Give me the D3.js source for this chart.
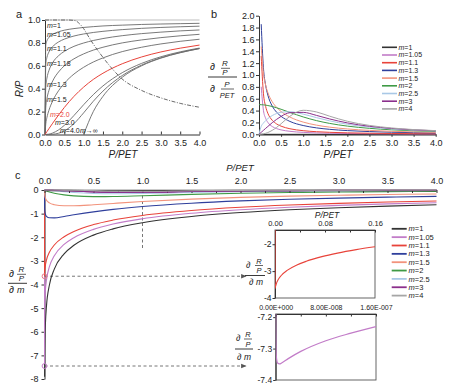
<!DOCTYPE html>
<html>
<head>
<meta charset="utf-8">
<script src="https://cdn.jsdelivr.net/npm/d3@7"></script>
<style>
  body { margin: 0; background: #fff; }
  svg { font-family: "Liberation Sans", Arial, Helvetica, sans-serif; }
  .ax path, .ax line { stroke: #333; }
  .ax text { fill: #222; }
</style>
</head>
<body>
<svg width="464" height="388"></svg>
<script>
// ---- panel a : R/P against P/PET ----
const xA = [0, 0.02, 0.05, 0.1, 0.2, 0.35, 0.5, 0.75, 1, 1.25, 1.5, 2, 2.5, 3, 3.5, 4];
const rpM1    = [1, 1, 1, 1, 1, 1, 1, 1, 1, 1, 1, 1, 1, 1, 1, 1];
const rpM105  = [0, 0.783, 0.819, 0.847, 0.875, 0.897, 0.911, 0.925, 0.935, 0.942, 0.948, 0.955, 0.961, 0.965, 0.968, 0.971];
const rpM11   = [0, 0.614, 0.673, 0.720, 0.768, 0.808, 0.833, 0.860, 0.878, 0.891, 0.901, 0.916, 0.927, 0.935, 0.941, 0.946];
const rpM118  = [0, 0.419, 0.493, 0.557, 0.628, 0.688, 0.726, 0.770, 0.799, 0.821, 0.838, 0.863, 0.881, 0.894, 0.905, 0.913];
const rpM13   = [0, 0.238, 0.313, 0.383, 0.468, 0.546, 0.600, 0.661, 0.704, 0.737, 0.762, 0.800, 0.826, 0.846, 0.862, 0.875];
const rpM15   = [0, 0.094, 0.149, 0.210, 0.294, 0.382, 0.447, 0.528, 0.587, 0.633, 0.669, 0.724, 0.762, 0.791, 0.814, 0.832];
const rpM2    = [0, 0.010, 0.025, 0.050, 0.099, 0.170, 0.236, 0.333, 0.414, 0.481, 0.535, 0.618, 0.677, 0.721, 0.754, 0.781];
const rpM3    = [0, 0, 0.001, 0.003, 0.013, 0.040, 0.080, 0.166, 0.260, 0.348, 0.424, 0.540, 0.621, 0.679, 0.722, 0.755];
const rpM4    = [0, 0, 0, 0, 0.002, 0.011, 0.031, 0.095, 0.189, 0.290, 0.379, 0.515, 0.606, 0.670, 0.716, 0.751];
const rpMinf  = [null, null, null, null, null, null, null, null, 0, 0.2, 0.333, 0.5, 0.6, 0.667, 0.714, 0.75];
// dash-dot curve
const xDD = [0, 0.6, 0.78, 0.9, 1.0, 1.1, 1.25, 1.42, 1.73, 1.98, 2.5, 3.0, 3.5, 4.0];
const yDD = [1, 1, 0.995, 0.965, 0.925, 0.87, 0.79, 0.71, 0.578, 0.49, 0.385, 0.32, 0.272, 0.238];
const ticksX = [0, 0.5, 1, 1.5, 2, 2.5, 3, 3.5, 4];
const ticksA = [0, 0.2, 0.4, 0.6, 0.8, 1.0];

// ---- panel b : derivative against P/PET ----
const xB = [0, 0.05, 0.1, 0.15, 0.2, 0.3, 0.4, 0.5, 0.7, 1.0, 1.3, 1.6, 2.0, 2.5, 3.0, 3.5, 4.0];
const dM1   = [0, 0, 0, 0, 0, 0, 0, 0, 0, 0, 0, 0, 0, 0, 0, 0, 0];
const dM105 = [null, 0.802, 0.406, 0.270, 0.201, 0.131, 0.0956, 0.0744, 0.0502, 0.0325, 0.0232, 0.0176, 0.0130, 0.0095, 0.0073, 0.0058, 0.0048];
const dM11  = [null, 1.321, 0.693, 0.470, 0.355, 0.236, 0.174, 0.137, 0.0935, 0.0611, 0.0439, 0.0334, 0.0247, 0.0181, 0.0139, 0.0111, 0.0091];
const dM13  = [null, 1.857, 1.122, 0.828, 0.662, 0.476, 0.371, 0.303, 0.217, 0.148, 0.1086, 0.0837, 0.0623, 0.0457, 0.0351, 0.0278, 0.0227];
const dM15  = [null, 1.480, 1.032, 0.829, 0.704, 0.549, 0.453, 0.384, 0.291, 0.206, 0.1547, 0.1205, 0.0902, 0.0661, 0.0506, 0.0400, 0.0325];
const dM2   = [0.5, 0.499, 0.496, 0.492, 0.485, 0.469, 0.447, 0.422, 0.369, 0.293, 0.231, 0.1836, 0.1382, 0.1006, 0.0760, 0.0592, 0.0473];
const dM25  = [0, 0.134, 0.189, 0.231, 0.265, 0.316, 0.351, 0.372, 0.380, 0.340, 0.281, 0.2264, 0.1698, 0.1218, 0.0905, 0.0695, 0.0548];
const dM3   = [0, 0.0333, 0.0666, 0.0997, 0.132, 0.196, 0.253, 0.302, 0.364, 0.370, 0.319, 0.2587, 0.1922, 0.1354, 0.0991, 0.0751, 0.0586];
const dM4   = [0, 0.0019, 0.0075, 0.0169, 0.030, 0.067, 0.117, 0.178, 0.304, 0.405, 0.377, 0.305, 0.2201, 0.1499, 0.1070, 0.0797, 0.0615];
const ticksB = [0, 0.2, 0.4, 0.6, 0.8, 1.0, 1.2, 1.4, 1.6, 1.8, 2.0];

// ---- panel c : d(R/P)/dm against P/PET ----
const xC = [0, 1e-8, 0.001, 0.002, 0.005, 0.01, 0.02, 0.05, 0.1, 0.2, 0.3, 0.5, 0.7, 1, 1.5, 2, 2.5, 3, 3.5, 4];
const sM1   = [null, null, -7.908, -7.216, -6.301, -5.610, -4.922, -4.020, -3.351, -2.703, -2.341, -1.910, -1.645, -1.386, -1.122, -0.955, -0.838, -0.750, -0.681, -0.626];
const sM105 = [0, -7.35, -5.300, -5.003, -4.568, -4.206, -3.814, -3.247, -2.786, -2.305, -2.020, -1.666, -1.442, -1.217, -0.982, -0.833, -0.728, -0.649, -0.587, -0.537];
const sM11  = [0, -3.65, -3.562, -3.479, -3.322, -3.163, -2.963, -2.634, -2.329, -1.978, -1.755, -1.464, -1.273, -1.076, -0.867, -0.732, -0.637, -0.565, -0.509, -0.464];
const sM13  = [0, -0.06, -0.743, -0.832, -0.952, -1.036, -1.113, -1.176, -1.178, -1.120, -1.051, -0.925, -0.821, -0.699, -0.558, -0.462, -0.394, -0.343, -0.303, -0.271];
const sM15  = [0, 0, -0.160, -0.205, -0.281, -0.351, -0.432, -0.545, -0.622, -0.668, -0.667, -0.625, -0.569, -0.489, -0.385, -0.312, -0.260, -0.221, -0.191, -0.168];
const sM2   = [0, 0, -0.004, -0.007, -0.015, -0.026, -0.044, -0.087, -0.140, -0.208, -0.248, -0.280, -0.276, -0.245, -0.186, -0.140, -0.108, -0.086, -0.070, -0.058];
const sM25  = [0, 0, 0, 0, -0.001, -0.002, -0.005, -0.015, -0.034, -0.071, -0.103, -0.145, -0.158, -0.146, -0.105, -0.072, -0.051, -0.037, -0.028, -0.022];
const sM3   = [0, 0, 0, 0, 0, 0, -0.001, -0.003, -0.009, -0.026, -0.045, -0.081, -0.100, -0.097, -0.065, -0.040, -0.026, -0.017, -0.012, -0.009];
const sM4   = [0, 0, 0, 0, 0, 0, 0, 0, -0.001, -0.004, -0.010, -0.028, -0.046, -0.052, -0.029, -0.014, -0.007, -0.004, -0.003, -0.002];
const ticksC = [0, -1, -2, -3, -4, -5, -6, -7, -8];
const ticksCTop = [0, 0.25, 0.5, 0.75, 1, 1.25, 1.5, 1.75, 2, 2.25, 2.5, 2.75, 3, 3.25, 3.5, 3.75, 4];

// inset 1 (m=1.1, small P/PET)
const xIn1 = [0, 1e-8, 0.001, 0.002, 0.005, 0.01, 0.02, 0.035, 0.05, 0.075, 0.1, 0.13, 0.16];
const yIn1 = [0, -3.65, -3.562, -3.479, -3.322, -3.163, -2.963, -2.772, -2.634, -2.461, -2.329, -2.201, -2.095];
const ticksIn1X = [0, 0.04, 0.08, 0.12, 0.16];
const ticksIn1Y = [-2, -3, -4];
// inset 2 (m=1.05, very small P/PET)
const xIn2 = [0, 1e-10, 1e-9, 3e-9, 6e-9, 1e-8, 2e-8, 4e-8, 8e-8, 1.2e-7, 1.6e-7];
const yIn2 = [0, -7.221, -7.325, -7.346, -7.349, -7.345, -7.332, -7.309, -7.275, -7.251, -7.230];
const ticksIn2X = [0, 4e-8, 8e-8, 1.2e-7, 1.6e-7];
const labelsIn2X = ['0.00E+000', '', '8.00E-008', '', '1.60E-007'];
const ticksIn2Y = [-7.2, -7.3, -7.4];

// legend (panels b and c)
const legendM = ['1', '1.05', '1.1', '1.3', '1.5', '2', '2.5', '3', '4'];
const legendColor = ['#333333', '#c27cc8', '#e8433a', '#2f3f9c', '#f2937c', '#3f9a45', '#a9c8e6', '#8b2f8c', '#a6a6a6'];
const labelsA = ['1', '1.05', '1.1', '1.18', '1.3', '1.5', '2.0', '3.0', '4.0'];

const svg = d3.select('svg');
const defs = svg.append('defs');

function clip(id, x, y, w, h) {
  defs.append('clipPath').attr('id', id)
    .append('rect').attr('x', x).attr('y', y).attr('width', w).attr('height', h);
}

function pathOf(xs, ys, sx, sy) {
  return d3.line()
    .defined(d => d[1] != null)
    .x(d => sx(d[0]))
    .y(d => sy(d[1]))
    .curve(d3.curveMonotoneX)(xs.map((v, i) => [v, ys[i]]));
}

function txt(g, x, y, s, size, o = {}) {
  return g.append('text')
    .attr('x', x).attr('y', y)
    .attr('font-size', size)
    .attr('text-anchor', o.anchor || 'start')
    .attr('font-style', o.italic ? 'italic' : null)
    .attr('fill', o.fill || '#222')
    .text(s);
}

function mText(g, x, y, val, size, fill) {
  const t = g.append('text').attr('x', x).attr('y', y).attr('font-size', size).attr('fill', fill || '#222');
  t.append('tspan').attr('font-style', 'italic').text('m');
  t.append('tspan').text(val);
  return t;
}

function hline(g, x1, x2, y, w) {
  g.append('line').attr('x1', x1).attr('x2', x2).attr('y1', y).attr('y2', y)
    .attr('stroke', '#222').attr('stroke-width', w || 0.8);
}

function styleAxis(sel, size) {
  sel.attr('class', 'ax').selectAll('text').attr('font-size', size);
}

defs.append('marker').attr('id', 'arr').attr('viewBox', '0 0 10 10')
  .attr('refX', 9).attr('refY', 5).attr('markerWidth', 6).attr('markerHeight', 6)
  .attr('orient', 'auto')
  .append('path').attr('d', 'M0,1L10,5L0,9z').attr('fill', '#555');

// ================= panel a =================
const xa = d3.scaleLinear([0, 4], [45, 199.5]);
const ya = d3.scaleLinear([0, 1], [134.5, 20]);
const ga = svg.append('g');
clip('clipA', 44, 17, 157, 119);

ga.append('g').attr('transform', 'translate(0,134.5)')
  .call(d3.axisBottom(xa).tickValues(ticksX).tickFormat(d => d.toFixed(1)).tickSize(-3).tickSizeOuter(0).tickPadding(5))
  .call(s => styleAxis(s, 9));
ga.append('g').attr('transform', 'translate(45,0)')
  .call(d3.axisLeft(ya).tickValues(ticksA).tickFormat(d => d.toFixed(1)).tickSize(3).tickSizeOuter(0).tickPadding(1.5))
  .call(s => styleAxis(s, 9));

const seriesA = [rpM105, rpM11, rpM118, rpM13, rpM15, rpM3, rpM4, rpMinf];
const la = ga.append('g').attr('clip-path', 'url(#clipA)').attr('fill', 'none');
la.append('path').attr('d', pathOf(xA, rpM1, xa, ya)).attr('stroke', '#bdbdbd').attr('stroke-width', 1.2);
la.selectAll('path.g').data(seriesA).enter().append('path').attr('class', 'g')
  .attr('d', d => pathOf(xA, d, xa, ya)).attr('stroke', '#6a6a6a').attr('stroke-width', 0.9);
la.append('path').attr('d', pathOf(xA, rpM2, xa, ya)).attr('stroke', '#e8433a').attr('stroke-width', 1);
la.append('path').attr('d', pathOf(xDD, yDD, xa, ya)).attr('stroke', '#444')
  .attr('stroke-width', 0.8).attr('stroke-dasharray', '4,1.5,1,1.5');

const labA = ga.append('g');
const labPos = [[47, 27.5], [47, 36.5], [47, 51], [47, 66], [47, 87], [47, 102], [50, 117], [55, 125], [60, 132.5]];
labelsA.forEach((v, i) => mText(labA, labPos[i][0], labPos[i][1], '=' + v, 7, v === '2.0' ? '#e8433a' : '#222'));
mText(labA, 80, 132.5, '→∞', 7);

txt(ga, 16, 18, 'a', 11);
txt(ga, 123, 158, 'P/PET', 10, { italic: true, anchor: 'middle' });
ga.append('text').attr('transform', 'translate(23,89) rotate(-90)')
  .attr('text-anchor', 'middle').attr('font-size', 10).attr('font-style', 'italic')
  .attr('fill', '#222').text('R/P');

// ================= panel b =================
const xb = d3.scaleLinear([0, 4], [259, 435.7]);
const yb = d3.scaleLinear([0, 2], [134.3, 15.7]);
const gb = svg.append('g');
clip('clipB', 258, 14, 180, 122);

gb.append('g').attr('transform', 'translate(0,134.3)')
  .call(d3.axisBottom(xb).tickValues(ticksX).tickFormat(d => d.toFixed(1)).tickSize(2.5).tickSizeOuter(0).tickPadding(3))
  .call(s => styleAxis(s, 9))
  .select('.domain').attr('stroke-width', 1.4);
gb.append('g').attr('transform', 'translate(259,0)')
  .call(d3.axisLeft(yb).tickValues(ticksB).tickFormat(d => d.toFixed(1)).tickSize(3).tickSizeOuter(0).tickPadding(1.5))
  .call(s => styleAxis(s, 9));

const seriesB = [dM1, dM105, dM11, dM13, dM15, dM2, dM25, dM3, dM4];
gb.append('g').attr('clip-path', 'url(#clipB)').attr('fill', 'none')
  .selectAll('path').data(seriesB).enter().append('path')
  .attr('d', d => pathOf(xB, d, xb, yb))
  .attr('stroke', (d, i) => legendColor[i]).attr('stroke-width', 1);

const legB = gb.append('g');
legendM.forEach((m, i) => {
  const y = 47.3 + i * 7.7;
  legB.append('line').attr('x1', 382).attr('x2', 397).attr('y1', y).attr('y2', y)
    .attr('stroke', legendColor[i]).attr('stroke-width', 1.6);
  mText(legB, 398.5, y + 2.4, '=' + m, 7);
});

txt(gb, 211, 18, 'b', 11);
txt(gb, 338, 158, 'P/PET', 10, { italic: true, anchor: 'middle' });
// y label fraction
txt(gb, 210, 70, '∂', 10);
txt(gb, 225, 66, 'R', 8, { italic: true, anchor: 'middle' });
hline(gb, 221, 230, 68.3, 0.7);
txt(gb, 225, 75, 'P', 8, { italic: true, anchor: 'middle' });
hline(gb, 208, 237, 77, 0.9);
txt(gb, 210, 92, '∂', 10);
txt(gb, 227, 87, 'P', 8, { italic: true, anchor: 'middle' });
hline(gb, 221, 234, 89, 0.7);
txt(gb, 227, 97.5, 'PET', 7.5, { italic: true, anchor: 'middle' });

// ================= panel c =================
const xc = d3.scaleLinear([0, 4], [44.5, 436.5]);
const yc = d3.scaleLinear([-8, 0], [379, 190]);
const gc = svg.append('g');
clip('clipC', 44, 188, 395, 192);

gc.append('g').attr('transform', 'translate(44.5,0)')
  .call(d3.axisLeft(yc).tickValues(ticksC).tickFormat(d => String(d)).tickSize(3).tickSizeOuter(0).tickPadding(3))
  .call(s => styleAxis(s, 9));

// guide lines
gc.append('line').attr('x1', xc(1)).attr('x2', xc(1)).attr('y1', yc(0)).attr('y2', yc(-2.55))
  .attr('stroke', '#666').attr('stroke-width', 0.9).attr('stroke-dasharray', '3,2.5');
[-3.65, -7.45].forEach(v => {
  gc.append('line').attr('x1', xc(0)).attr('x2', 246).attr('y1', yc(v)).attr('y2', yc(v))
    .attr('stroke', '#666').attr('stroke-width', 0.9).attr('stroke-dasharray', '3,2.5')
    .attr('marker-end', 'url(#arr)');
});

const seriesC = [sM1, sM105, sM11, sM13, sM15, sM2, sM25, sM3, sM4];
gc.append('g').attr('clip-path', 'url(#clipC)').attr('fill', 'none')
  .selectAll('path').data(seriesC).enter().append('path')
  .attr('d', d => pathOf(xC, d, xc, yc))
  .attr('stroke', (d, i) => legendColor[i]).attr('stroke-width', 1.1);

gc.append('g').attr('transform', 'translate(0,190)')
  .call(d3.axisTop(xc).tickValues(ticksCTop)
    .tickFormat(d => (Math.round(d * 4) % 2 === 0 ? d.toFixed(1) : ''))
    .tickSize(-3).tickSizeOuter(0).tickPadding(6))
  .call(s => styleAxis(s, 9))
  .select('.domain').attr('stroke-width', 1.5);

// redraw the flattest curves on top of the axis line
gc.append('g').attr('clip-path', 'url(#clipC)').attr('fill', 'none')
  .selectAll('path').data([sM3, sM4]).enter().append('path')
  .attr('d', d => pathOf(xC, d, xc, yc))
  .attr('stroke', (d, i) => legendColor[7 + i]).attr('stroke-width', 1.1);

[-3.65, -7.45].forEach((v, i) => {
  gc.append('circle').attr('cx', xc(0)).attr('cy', yc(v)).attr('r', 2.4)
    .attr('fill', 'none').attr('stroke', i === 0 ? '#e8788a' : '#c27cc8').attr('stroke-width', 1);
});

txt(gc, 15, 179, 'c', 11);
txt(gc, 240, 171, 'P/PET', 9.5, { italic: true, anchor: 'middle' });
// y label fraction
txt(gc, 9, 277, '∂', 10);
txt(gc, 21.5, 272, 'R', 8, { italic: true, anchor: 'middle' });
hline(gc, 17, 26, 274.3, 0.7);
txt(gc, 21.5, 281, 'P', 8, { italic: true, anchor: 'middle' });
hline(gc, 8, 27, 283.3, 0.9);
txt(gc, 9, 293, '∂', 10);
txt(gc, 17, 293, 'm', 9, { italic: true });

// legend c
const legC = gc.append('g');
legendM.forEach((m, i) => {
  const y = 228.8 + i * 8.35;
  legC.append('line').attr('x1', 391.7).attr('x2', 406.7).attr('y1', y).attr('y2', y)
    .attr('stroke', legendColor[i]).attr('stroke-width', 1.8);
  mText(legC, 408.5, y + 2.6, '=' + m, 7.5);
});

// ---- inset 1 ----
const xi1 = d3.scaleLinear([0, 0.16], [275, 375]);
const yi1 = d3.scaleLinear([-4, -1.47], [298, 230]);
const gi1 = svg.append('g');
clip('clipI1', 275, 230, 100, 68);
gi1.append('rect').attr('x', 275).attr('y', 230).attr('width', 100).attr('height', 68)
  .attr('fill', '#fff').attr('stroke', '#555').attr('stroke-width', 0.9);
gi1.append('g').attr('transform', 'translate(275,0)')
  .call(d3.axisLeft(yi1).tickValues(ticksIn1Y).tickFormat(d => String(d)).tickSize(2.5).tickSizeOuter(0).tickPadding(1))
  .call(s => styleAxis(s, 8.5));
gi1.append('g').attr('transform', 'translate(0,230)')
  .call(d3.axisTop(xi1).tickValues(ticksIn1X)
    .tickFormat((d, i) => (i % 2 === 0 ? d.toFixed(2) : '')).tickSize(-2.5).tickSizeOuter(0).tickPadding(4))
  .call(s => styleAxis(s, 7.5));
gi1.append('path').attr('clip-path', 'url(#clipI1)').attr('fill', 'none')
  .attr('d', pathOf(xIn1, yIn1, xi1, yi1)).attr('stroke', '#e8433a').attr('stroke-width', 1.1);
txt(gi1, 327, 217.5, 'P/PET', 8.5, { italic: true, anchor: 'middle' });
txt(gi1, 246, 268, '∂', 9);
txt(gi1, 259, 263.5, 'R', 7.5, { italic: true, anchor: 'middle' });
hline(gi1, 255, 263, 265.5, 0.7);
txt(gi1, 259, 273, 'P', 7.5, { italic: true, anchor: 'middle' });
hline(gi1, 245, 265, 275.5, 0.9);
txt(gi1, 249, 285, '∂', 9);
txt(gi1, 256, 285, 'm', 8.5, { italic: true });

// ---- inset 2 ----
const xi2 = d3.scaleLinear([0, 1.6e-7], [275.7, 376]);
const yi2 = d3.scaleLinear([-7.4, -7.19], [380, 314]);
const gi2 = svg.append('g');
clip('clipI2', 275.7, 314, 100.3, 66);
gi2.append('rect').attr('x', 275.7).attr('y', 314).attr('width', 100.3).attr('height', 66)
  .attr('fill', '#fff').attr('stroke', '#555').attr('stroke-width', 0.9);
gi2.append('g').attr('transform', 'translate(275.7,0)')
  .call(d3.axisLeft(yi2).tickValues(ticksIn2Y).tickFormat(d => d.toFixed(1)).tickSize(2.5).tickSizeOuter(0).tickPadding(1))
  .call(s => styleAxis(s, 8.5));
gi2.append('g').attr('transform', 'translate(0,314)')
  .call(d3.axisTop(xi2).tickValues(ticksIn2X).tickFormat((d, i) => labelsIn2X[i])
    .tickSize(-2.5).tickSizeOuter(0).tickPadding(4))
  .call(s => styleAxis(s, 7));
gi2.append('path').attr('clip-path', 'url(#clipI2)').attr('fill', 'none')
  .attr('d', pathOf(xIn2, yIn2, xi2, yi2)).attr('stroke', '#c27cc8').attr('stroke-width', 1.2);
txt(gi2, 236, 341, '∂', 9);
txt(gi2, 248, 337, 'R', 7.5, { italic: true, anchor: 'middle' });
hline(gi2, 244, 252, 339, 0.7);
txt(gi2, 248, 346.5, 'P', 7.5, { italic: true, anchor: 'middle' });
hline(gi2, 235, 253, 349, 0.9);
txt(gi2, 237, 359.5, '∂', 9);
txt(gi2, 244, 359.5, 'm', 8.5, { italic: true });
</script>
</body>
</html>
